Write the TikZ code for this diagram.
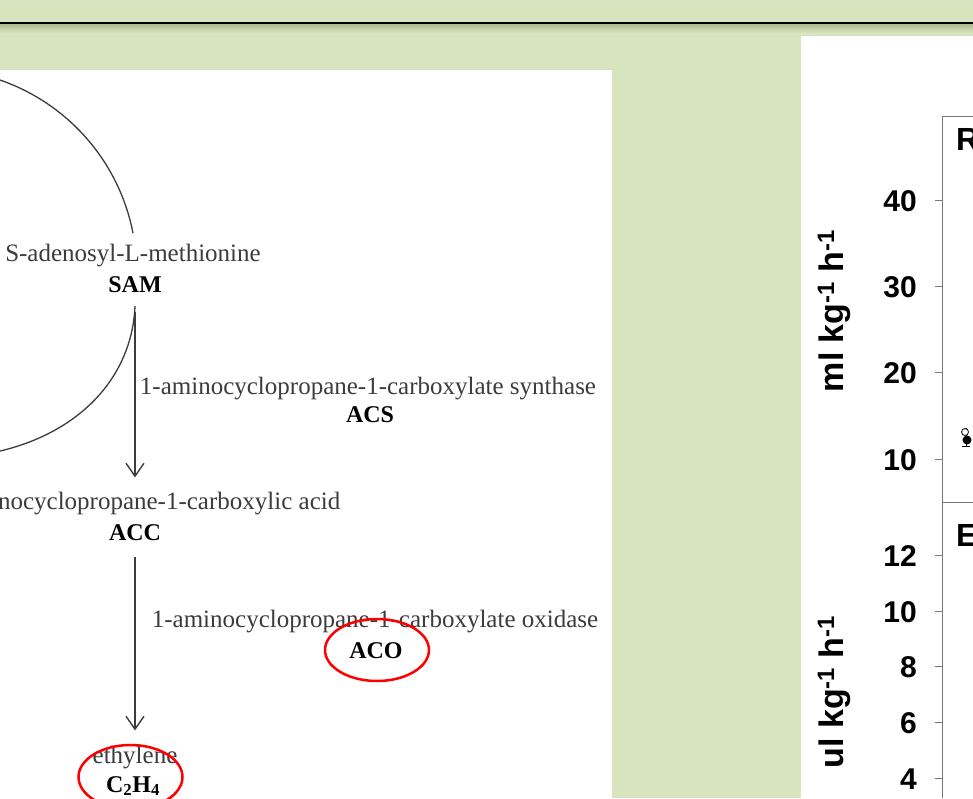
\documentclass[tikz,border=0pt]{standalone}
\usepackage{fontspec}
\setmainfont{Liberation Serif}
\newfontfamily\chartfont{Liberation Sans}
\usetikzlibrary{arrows.meta}

\definecolor{slidegreen}{RGB}{216,228,189}
\definecolor{shadowgreen}{RGB}{176,188,150}
\definecolor{pathgray}{RGB}{60,60,60}
\definecolor{axisgray}{RGB}{120,120,120}

\tikzset{
  pathtext/.style={inner sep=0pt, text=pathgray, font=\fontsize{25}{28}\selectfont},
  abbr/.style={inner sep=0pt, text=black, font=\fontsize{24}{28}\selectfont\bfseries},
  reaction/.style={draw=pathgray, line width=1.4pt, -{Straight Barb[length=13pt,width=18pt]}},
  ring/.style={draw=red, line width=2.5pt},
  ticklabel/.style={anchor=east, inner sep=0pt, font=\chartfont\fontsize{30}{32}\selectfont\bfseries},
  panellabel/.style={anchor=west, inner sep=0pt, font=\chartfont\fontsize{32}{34}\selectfont\bfseries},
  axislabel/.style={rotate=90, inner sep=0pt, font=\chartfont\fontsize{34}{36}\selectfont\bfseries},
  axisline/.style={draw=axisgray, line width=1pt}
}

\begin{document}
\begin{tikzpicture}[x=1pt, y=-1pt]
\useasboundingbox (0,0) rectangle (973,798);
\clip (0,0) rectangle (973,798);

% slide background
\fill[slidegreen] (0,0) rectangle (973,798);
\shade[top color=shadowgreen, bottom color=slidegreen] (0,24) rectangle (973,33);
\draw[line width=2.2pt] (0,23) -- (973,23);
\fill[white] (0,70) rectangle (612,798);
\fill[white] (801,36) rectangle (973,798);

% pathway
\draw[line width=1.3pt, pathgray] (-31,72) arc[start angle=-80, end angle=-11, radius=203];
\draw[line width=1.3pt, pathgray] (135,306) .. controls (132,380) and (75,440) .. (-20,455);

\node[pathtext] (samname) at (133,256) {S-adenosyl-L-methionine};
\node[abbr] (sam) at (135,285) {SAM};
\node[pathtext] (acsname) at (368,389) {1-aminocyclopropane-1-carboxylate synthase};
\node[abbr] (acs) at (370,415) {ACS};
\node[pathtext] (accname) at (140,504) {1-aminocyclopropane-1-carboxylic acid};
\node[abbr] (acc) at (135,533) {ACC};
\node[pathtext] (aconame) at (375,622) {1-aminocyclopropane-1-carboxylate oxidase};
\node[abbr] (aco) at (376,651) {ACO};
\node[pathtext] (ethname) at (135,758) {ethylene};
\node[abbr] (c2h4) at (133,786) {C\textsubscript{2}H\textsubscript{4}};

\draw[reaction, shorten <=19pt, shorten >=15pt] (sam.south) -- (sam.south |- accname.north);
\draw[reaction, shorten <=16pt, shorten >=16pt] (acc.south) -- (acc.south |- ethname.north);

\draw[ring] ([xshift=1pt, yshift=1pt]aco.center) ellipse [x radius=52, y radius=31];
\draw[ring] ([xshift=-2.5pt, yshift=9pt]c2h4.center) ellipse [x radius=52, y radius=32];

% chart
\draw[axisline] (973,116) -- (942,116) -- (942,798);
\draw[axisline] (942,502) -- (973,502);
\node[panellabel] (rpanel) at (956,139) {R};
\node[panellabel] (epanel) at (956,535) {E};

\node[ticklabel] (t40) at (917,201) {40};
\node[ticklabel] (t30) at (917,287) {30};
\node[ticklabel] (t20) at (917,373) {20};
\node[ticklabel] (t10) at (917,460) {10};
\draw[axisline] (935,200) -- (942,200);
\draw[axisline] (935,286) -- (942,286);
\draw[axisline] (935,372) -- (942,372);
\draw[axisline] (935,459) -- (942,459);

\node[ticklabel] (u12) at (917,556) {12};
\node[ticklabel] (u10) at (917,612) {10};
\node[ticklabel] (u8) at (917,667) {8};
\node[ticklabel] (u6) at (917,723) {6};
\node[ticklabel] (u4) at (917,779) {4};
\draw[axisline] (935,555) -- (942,555);
\draw[axisline] (935,611) -- (942,611);
\draw[axisline] (935,666) -- (942,666);
\draw[axisline] (935,722) -- (942,722);
\draw[axisline] (935,778) -- (942,778);

\node[axislabel] (mlunit) at (834,311) {ml kg\textsuperscript{-1} h\textsuperscript{-1}};
\node[axislabel] (ulunit) at (834,692) {ul kg\textsuperscript{-1} h\textsuperscript{-1}};

% first data point
\draw[line width=0.8pt] (962,446) -- (970,446);
\draw[line width=0.8pt] (966,446) -- (966,428);
\draw[line width=0.8pt, fill=white] (965,432) circle (3.5);
\fill (967,440) circle (4.5);
\end{tikzpicture}
\end{document}
